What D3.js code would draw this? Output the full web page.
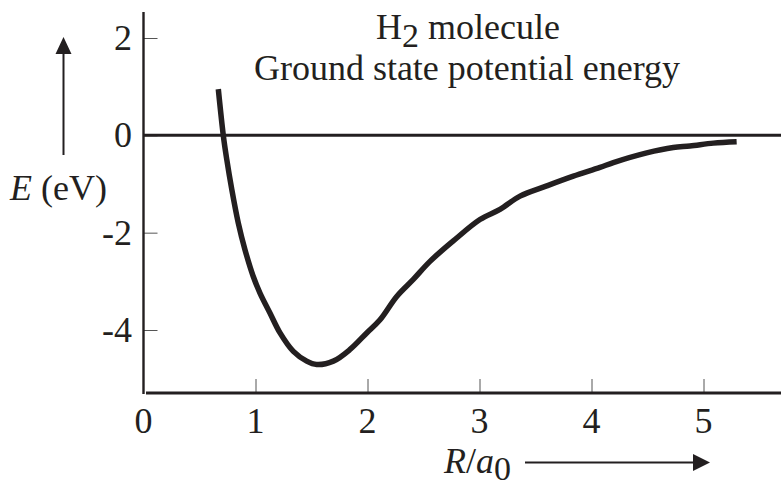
<!DOCTYPE html>
<html><head><meta charset="utf-8">
<script src="https://cdn.jsdelivr.net/npm/d3@7"></script>
<style>
html,body{margin:0;padding:0;background:#fff;}
svg{display:block;font-family:"Liberation Serif","Times New Roman",serif;}
</style></head>
<body>
<svg id="c" width="781" height="486"></svg>
<script>
// Data
const R = [0.668,0.713,0.743,0.788,0.846,0.906,0.980,1.040,1.129,1.219,1.338,1.457,1.546,1.695,1.844,1.993,2.112,2.261,2.409,2.558,2.766,3.004,3.183,3.362,3.600,3.838,4.076,4.195,4.493,4.730,4.879,5.088,5.296];
const E = [0.95,-0.01,-0.49,-1.11,-1.80,-2.35,-2.90,-3.24,-3.65,-4.06,-4.44,-4.64,-4.71,-4.64,-4.40,-4.06,-3.79,-3.31,-2.96,-2.59,-2.17,-1.73,-1.52,-1.25,-1.04,-0.84,-0.66,-0.56,-0.36,-0.25,-0.22,-0.16,-0.13];
const xTicks = [1,2,3,4,5];
const xTickLabels = ["0","1","2","3","4","5"];
const yTicks = [2,0,-2,-4];
const yTickLabels = ["2","0","-2","-4"];
const titleLine1 = ["H","2"," molecule"];
const titleLine2 = "Ground state potential energy";

const ink = "#231f20";
const FS = 36;
const svg = d3.select("#c");
const x = d3.scaleLinear().domain([0,5]).range([143.5,703.5]);
const y = d3.scaleLinear().domain([-4,2]).range([330,38]);
const axisY = 393, axisX = 143.5;

// x ticks (inward, thin)
const gx = svg.append("g").attr("transform",`translate(0,${axisY})`)
  .call(d3.axisBottom(x).tickValues(xTicks).tickSizeInner(-14).tickSizeOuter(0).tickFormat(""));
gx.select(".domain").remove();
gx.selectAll("line").attr("stroke","#555").attr("stroke-width",1);
svg.append("g").selectAll("text").data([0,1,2,3,4,5]).join("text")
  .attr("x",d=>x(d)).attr("y",433).attr("text-anchor","middle")
  .attr("font-size",FS).attr("fill",ink).text((d,i)=>xTickLabels[i]);

// y ticks
const gy = svg.append("g").attr("transform",`translate(${axisX},0)`)
  .call(d3.axisRight(y).tickValues(yTicks).tickSizeInner(14).tickSizeOuter(0).tickFormat(""));
gy.select(".domain").remove();
gy.selectAll("line").attr("stroke","#555").attr("stroke-width",1);
svg.append("g").selectAll("text").data(yTicks).join("text")
  .attr("x",132).attr("y",d=>y(d)+12).attr("text-anchor","end")
  .attr("font-size",FS).attr("fill",ink).text((d,i)=>yTickLabels[i]);

// axes lines
svg.append("line").attr("x1",axisX).attr("x2",axisX).attr("y1",12).attr("y2",394)
  .attr("stroke",ink).attr("stroke-width",2.4);
svg.append("line").attr("x1",146).attr("x2",781).attr("y1",axisY).attr("y2",axisY)
  .attr("stroke",ink).attr("stroke-width",3);
// zero line
svg.append("line").attr("x1",axisX).attr("x2",781).attr("y1",y(0)).attr("y2",y(0))
  .attr("stroke",ink).attr("stroke-width",3);

// curve
const pts = R.map((r,i)=>[r,E[i]]);
svg.append("path").datum(pts)
  .attr("d",d3.line().x(d=>x(d[0])).y(d=>y(d[1])).curve(d3.curveCatmullRom))
  .attr("fill","none").attr("stroke",ink).attr("stroke-width",5.5)
  .attr("stroke-linejoin","round").attr("stroke-linecap","butt");

// title
const t1 = svg.append("text").attr("x",468).attr("y",39).attr("text-anchor","middle")
  .attr("font-size",FS).attr("fill",ink);
t1.append("tspan").text(titleLine1[0]);
t1.append("tspan").attr("dy",8).attr("font-size",34).text(titleLine1[1]);
t1.append("tspan").attr("dy",-8).text(titleLine1[2]);
svg.append("text").attr("x",467).attr("y",80).attr("text-anchor","middle")
  .attr("font-size",FS).attr("fill",ink).text(titleLine2);

// y label with arrow
const yl = svg.append("text").attr("x",10).attr("y",200).attr("font-size",FS).attr("fill",ink);
yl.append("tspan").attr("font-style","italic").text("E");
yl.append("tspan").text(" (eV)");
svg.append("line").attr("x1",63.5).attr("x2",63.5).attr("y1",155).attr("y2",50)
  .attr("stroke",ink).attr("stroke-width",2);
svg.append("path").attr("d","M63.5,37 L55.5,54 L71.5,54 Z").attr("fill",ink);

// x label with arrow
const xl = svg.append("text").attr("x",444).attr("y",473).attr("font-size",FS).attr("fill",ink);
xl.append("tspan").attr("font-style","italic").text("R");
xl.append("tspan").text("/");
xl.append("tspan").attr("font-style","italic").text("a");
xl.append("tspan").attr("dy",7).attr("font-size",34).text("0");
svg.append("line").attr("x1",525).attr("x2",696).attr("y1",462.5).attr("y2",462.5)
  .attr("stroke",ink).attr("stroke-width",2);
svg.append("path").attr("d","M710,462.5 L693,454 L693,471 Z").attr("fill",ink);
</script>
</body></html>
